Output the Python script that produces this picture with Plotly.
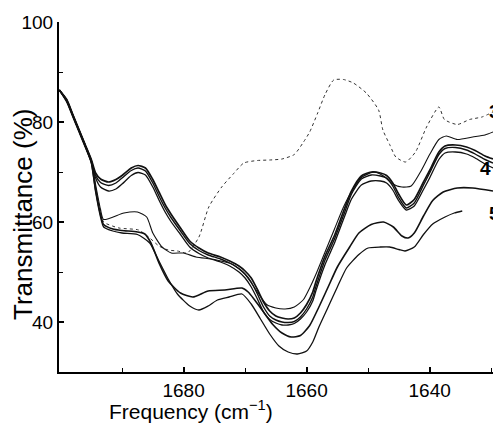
import plotly.graph_objects as go

# ---- data ----
F_UP = [1700.2, 1699, 1698, 1697, 1696, 1695, 1694.3, 1693.5, 1692.2, 1691, 1690, 1688.5, 1687.4, 1686.2,
        1685, 1684, 1683, 1682, 1680.5, 1679, 1677.5, 1676, 1674, 1672.5, 1671, 1670, 1669, 1668, 1667,
        1666, 1665, 1664, 1663, 1662, 1661, 1660, 1659, 1658.5, 1657, 1655.4, 1653.8, 1652.7, 1651.1,
        1649.5, 1648, 1647, 1646, 1645, 1643.8, 1642.5, 1641, 1640, 1638.5, 1637.5, 1635.8, 1634, 1632.6,
        1631, 1629.7]
T1 = [86.4, 84.5, 81.5, 78.5, 75.5, 72.5, 69.8, 68.6, 68.0, 68.5, 69.3, 70.8, 71.3, 70.8, 68.5, 66, 63.5,
      61.5, 58.8, 56.2, 54.8, 53.8, 53, 52.2, 51.2, 50.2, 48.8, 46.5, 44, 42.2, 41.2, 40.8, 40.6, 40.8, 41.8,
      43.5, 46, 48, 53.2, 57.5, 62.8, 66.2, 69.2, 70, 69.8, 69.3, 67.8, 65.5, 63.4, 64.5, 68, 70.3, 74, 75.2,
      75.4, 75, 74.3, 73.2, 72.6]
T2 = [86.4, 84.3, 81.3, 78.3, 75.3, 72.3, 69.3, 67.9, 67.3, 67.8, 68.8, 70.3, 70.8, 70.2, 67.8, 65.2, 62.8,
      60.8, 58.2, 55.7, 54.3, 53.4, 52.6, 51.8, 50.7, 49.6, 48, 45.6, 43, 41.2, 40.4, 40, 39.9, 40.1, 41,
      42.6, 45, 47, 52.4, 56.8, 62, 65.6, 68.6, 69.4, 69.2, 68.8, 67.2, 64.8, 62.8, 63.8, 67.4, 69.8, 73.5,
      74.7, 74.9, 74.4, 73.6, 72.5, 71.8]
T3 = [86.4, 84, 81, 78, 75, 72, 68.8, 67.0, 66.2, 66.6, 67.6, 69.3, 69.9, 69.4, 67, 64.4, 62, 60, 57.5, 55,
      53.7, 52.8, 52, 51.2, 50, 48.8, 47, 44.6, 42, 40.5, 39.8, 39.4, 39.4, 39.7, 40.6, 42, 44.2, 46.2, 51.5,
      56, 61.2, 64.6, 67.4, 68.2, 68.2, 67.8, 66.4, 64.2, 62.4, 63.2, 66.5, 68.8, 72.5, 73.8, 74, 73.6, 72.8,
      71.6, 70.8]

F4 = [1700.2, 1699, 1698, 1697, 1696, 1695, 1694.3, 1693.5, 1693, 1691.5, 1690, 1687.5, 1686.3, 1685.3, 1684,
      1682.5, 1680.5, 1678.5, 1676, 1673.3, 1670.5, 1669.5, 1668.5, 1667, 1665.5, 1664, 1662.5, 1661, 1659.5,
      1658, 1656.5, 1655, 1653, 1651.5, 1649.5, 1647.5, 1645.9, 1644.5, 1643.5, 1642.5, 1641, 1639.5, 1637.8,
      1635.5, 1633, 1629.7]
T4 = [86.4, 84.3, 81.3, 78.3, 75.3, 72, 66.5, 61.5, 59.5, 58.6, 58.3, 58.0, 57.6, 55.8, 51.8, 48.2, 45.8, 45.0,
      46.2, 46.4, 46.8, 46, 44.5, 42, 39.5, 37.8, 37.0, 37.3, 39.3, 43, 47, 51, 55, 57.8, 59.5, 60, 59, 57.2,
      56.8, 57.8, 61.2, 64.3, 66, 66.8, 66.8, 66.2]

F5 = [1700.2, 1699, 1698, 1697, 1696, 1695, 1694.3, 1693.5, 1693, 1691.5, 1690, 1687.5, 1685.5, 1684, 1682.5,
      1681, 1679, 1677.5, 1676, 1674.5, 1672.6, 1670.5, 1669, 1667.5, 1666, 1664.5, 1663, 1661.5, 1660, 1659,
      1658, 1656.5, 1655, 1653.5, 1651.5, 1650, 1648, 1646.5, 1645, 1644, 1642.5, 1641, 1639.5, 1637.5, 1636,
      1634.7]
T5 = [86.4, 84.2, 81.2, 78.2, 75.2, 71.8, 66, 61, 59, 58.2, 57.8, 57.5, 55.8, 52.2, 48.6, 45.6, 43.2, 42.4,
      43.2, 44.4, 45, 45.6, 43.6, 40.6, 37.6, 35.2, 34, 33.6, 34.2, 36, 39, 43, 47, 50.8, 53.5, 54.8, 55, 55,
      54.5, 54.2, 55, 57.5, 59.6, 61, 61.8, 62.2]

FD = [1700.2, 1699, 1698, 1697, 1696, 1695, 1694.3, 1693.5, 1693, 1690.5, 1687.3, 1685.5, 1684, 1682.5, 1681,
      1679.4, 1677.5, 1675.9, 1673.8, 1672, 1670.2, 1668, 1666, 1664, 1662, 1660.5, 1659.5, 1658.2, 1657,
      1655.6, 1654, 1652.4, 1650.3, 1648.3, 1647.6, 1646.5, 1645.5, 1643.9, 1642.3, 1640.5, 1638.5, 1637.6,
      1635.5, 1633.5, 1631.5, 1629.7]
TD = [86.4, 84.4, 81.4, 78.4, 75.4, 72.2, 67, 62, 60, 58.8, 58.4, 56.8, 55.2, 54.4, 54.2, 53.8, 57, 63, 67,
      69.5, 71.8, 72.3, 72.4, 72.6, 73.5, 76, 78, 81.8, 85.5, 88.4, 88.5, 87.8, 85.8, 82.4, 78.4, 75.5, 73, 72,
      74, 79, 83, 80.5, 79.5, 80.5, 81, 82]

FE = [1700.2, 1699, 1698, 1697, 1696, 1695, 1694.3, 1693.5, 1693, 1689.7, 1687.5, 1686, 1685, 1683.5, 1682,
      1680, 1678, 1675, 1672, 1670, 1668, 1666.5, 1665, 1663.5, 1662, 1660.5, 1659.5, 1658.5, 1657, 1655.5,
      1654, 1652.5, 1651, 1649, 1647.5, 1646, 1644.5, 1643, 1641.5, 1640, 1638.5, 1637.3, 1635.5, 1633, 1631,
      1629.7]
TE = [86.4, 84.5, 81.5, 78.5, 75.5, 72.4, 67.5, 62.5, 60.5, 61.8, 62, 61, 57.8, 55, 53.8, 53.8, 53, 52.5,
      51.5, 49.5, 46, 43.5, 42.8, 42.6, 43, 44.5, 46.8, 49.5, 54, 58.5, 63, 66.5, 69, 70, 69.2, 67.6, 67,
      67.2, 70, 73.5, 76.5, 77.2, 76.5, 77, 77.4, 78]

X_TICKS = [1680, 1660, 1640]
X_MINOR = [1690, 1670, 1650, 1630]
Y_TICKS = [40, 60, 80, 100]
Y_MINOR = [50, 70, 90]
CURVE_LABELS = ["3", "4", "5"]

FONT = "Liberation Sans"

# The page shows the figure at an 8px offset and at most 485px wide.
W, H = 485, 418
L, T = 51, 14
PW, PH = W - L, 350
B = H - T - PH

def px(xp):
    # fraction of the plot width, measured on the reference (plot spans 59..501 there)
    return (xp - 59) / 442

def py(yp):
    return (372 - yp) / PH

fig = go.Figure()

def add(x, y, width, dash="solid", color="#111"):
    fig.add_trace(go.Scatter(x=x, y=y, mode="lines",
                             line=dict(color=color, width=width, dash=dash, shape="spline", smoothing=0.6),
                             showlegend=False, hoverinfo="skip"))

add(FD, TD, 1.0, dash="dot", color="#333")
add(FE, TE, 1.1)
add(F5, T5, 1.3)
add(F4, T4, 1.6)
add(F_UP, T3, 1.3)
add(F_UP, T2, 1.4)
add(F_UP, T1, 1.7)

fig.update_layout(
    width=W, height=H,
    margin=dict(l=L, r=0, t=T, b=B, pad=0),
    paper_bgcolor="white", plot_bgcolor="white",
    font=dict(family=FONT, size=19, color="black"),
    xaxis=dict(range=[1700.25, 1629.7], showgrid=False, zeroline=False,
               showline=True, linecolor="black", linewidth=2,
               ticks="inside", ticklen=5, tickwidth=1.5, tickcolor="black",
               tickvals=X_TICKS, ticktext=[str(v) for v in X_TICKS],
               minor=dict(tickvals=X_MINOR, ticks="inside", ticklen=4, tickwidth=1.2, tickcolor="black"),
               tickfont=dict(family=FONT, size=19)),
    yaxis=dict(range=[30, 100], showgrid=False, zeroline=False,
               showline=True, linecolor="black", linewidth=2,
               ticks="inside", ticklen=5, tickwidth=1.5, tickcolor="black",
               tickvals=Y_TICKS, ticktext=[str(v) for v in Y_TICKS],
               minor=dict(tickvals=Y_MINOR, ticks="inside", ticklen=4, tickwidth=1.2, tickcolor="black"),
               tickfont=dict(family=FONT, size=19)),
    annotations=[
        dict(text="Transmittance (%)", xref="paper", yref="paper", x=(23 - 59) / PW, y=py(215),
             textangle=-90, showarrow=False, font=dict(family=FONT, size=26),
             xanchor="center", yanchor="middle"),
        dict(text="Frequency (cm<sup>−1</sup>)", xref="paper", yref="paper", x=px(193),
             y=py(410), showarrow=False, font=dict(family=FONT, size=21),
             xanchor="center", yanchor="middle"),
        dict(text="<b>" + CURVE_LABELS[1] + "</b>", xref="paper", yref="paper", x=px(493), y=py(168),
             showarrow=False, font=dict(family=FONT, size=19), xanchor="center", yanchor="middle"),
        dict(text="<b>" + CURVE_LABELS[0] + "</b>", xref="paper", yref="paper", x=1 + 1 / PW, y=py(112),
             showarrow=False, font=dict(family=FONT, size=19), xanchor="center", yanchor="middle"),
        dict(text="<b>" + CURVE_LABELS[2] + "</b>", xref="paper", yref="paper", x=1 + 1 / PW, y=py(213),
             showarrow=False, font=dict(family=FONT, size=19), xanchor="center", yanchor="middle"),
    ],
)

fig.write_html("out.html")
